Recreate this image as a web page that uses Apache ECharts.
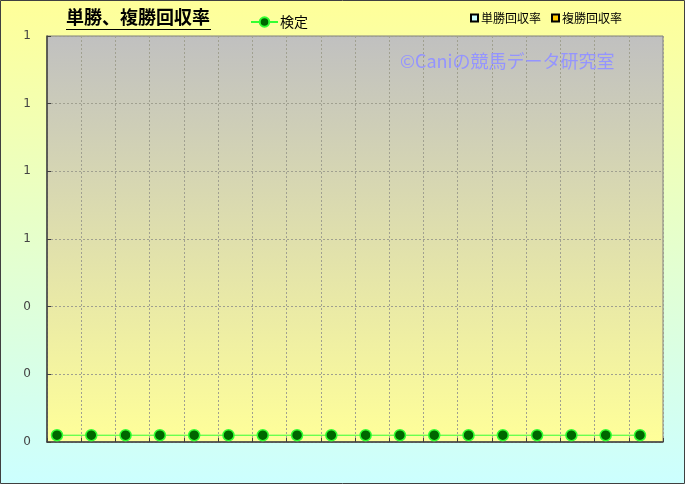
<!DOCTYPE html>
<html><head><meta charset="utf-8">
<script src="https://cdn.jsdelivr.net/npm/echarts@6/dist/echarts.min.js"></script>
<style>html,body{margin:0;padding:0;}#c{width:685px;height:484px;}</style>
</head><body><div id="c"></div>
<script>
const categories = ['1','2','3','4','5','6','7','8','9','10','11','12','13','14','15','16','17','18'];
const kenteiValues = [0.02,0.02,0.02,0.02,0.02,0.02,0.02,0.02,0.02,0.02,0.02,0.02,0.02,0.02,0.02,0.02,0.02,0.02];
const tanshoValues = [];
const fukushoValues = [];
const yMin = 0, yMax = 1.2, yInterval = 0.2;
const FONT = '"Noto Sans CJK JP", sans-serif';

const chart = echarts.init(document.getElementById('c'), null, {renderer:'canvas'});
chart.setOption({
  animation:false,
  backgroundColor:{type:'linear',x:0,y:0,x2:0,y2:1,colorStops:[{offset:0,color:'#FFFF99'},{offset:1,color:'#CCFFFF'}]},
  textStyle:{fontFamily:FONT},
  title:[
    {text:'単勝、複勝回収率',left:66,top:8,padding:0,textStyle:{fontSize:18,fontWeight:'bold',color:'#000',fontFamily:FONT}},
    {text:'©Caniの競馬データ研究室',left:400,top:52,padding:0,textStyle:{fontSize:18,fontWeight:'normal',color:'#9494FF',fontFamily:FONT}}
  ],
  legend:[
    {data:['検定'],left:250,top:15,padding:0,itemWidth:27,itemHeight:12,itemGap:4,textStyle:{fontSize:14,color:'#000',fontFamily:FONT,padding:[0,0,0,-3]}},
    {data:['単勝回収率','複勝回収率'],left:470,top:12,padding:0,itemWidth:7,itemHeight:7,itemGap:10,icon:'rect',textStyle:{fontSize:12,color:'#000',fontFamily:FONT,padding:[0,0,0,-2]}}
  ],
  grid:[
    {left:47,top:36,right:22,bottom:42,show:true,borderColor:'#808080',borderWidth:1,
      backgroundColor:{type:'linear',x:0,y:0,x2:0,y2:1,colorStops:[{offset:0,color:'#C0C0C0'},{offset:1,color:'#FFFF99'}]}},
    {left:57,top:36,right:45,bottom:42,show:false}
  ],
  xAxis:[
    {type:'category',gridIndex:0,data:categories,boundaryGap:true,
      axisLine:{show:true,lineStyle:{color:'#404040',width:1.5}},
      axisTick:{show:true,inside:true,length:4,lineStyle:{color:'#404040'}},
      axisLabel:{show:false},
      splitLine:{show:true,lineStyle:{color:'#a0a090',type:[2,2],width:1}}},
    {type:'category',gridIndex:1,data:categories,boundaryGap:false,show:false}
  ],
  yAxis:[
    {type:'value',gridIndex:0,min:yMin,max:yMax,interval:yInterval,
      axisLine:{show:true,lineStyle:{color:'#404040',width:1.5}},
      axisTick:{show:true,inside:true,length:4,lineStyle:{color:'#404040'}},
      axisLabel:{color:'#444',fontSize:12,margin:16,fontFamily:'"DejaVu Sans", sans-serif',formatter:v=>String(Math.round(v))},
      splitLine:{show:true,lineStyle:{color:'#a0a090',type:[2,2],width:1}}},
    {type:'value',gridIndex:1,min:yMin,max:yMax,interval:yInterval,show:false,splitLine:{show:false}}
  ],
  series:[
    {name:'検定',type:'line',xAxisIndex:1,yAxisIndex:1,data:kenteiValues,symbol:'circle',symbolSize:11,
      lineStyle:{color:'#33FF33',width:1},
      itemStyle:{color:'#006600',borderColor:'#33FF33',borderWidth:1.5}},
    {name:'単勝回収率',type:'bar',data:tanshoValues,itemStyle:{color:'#CCFFFF',borderColor:'#000',borderWidth:1.5}},
    {name:'複勝回収率',type:'bar',data:fukushoValues,itemStyle:{color:'#FFCC00',borderColor:'#000',borderWidth:1.5}}
  ],
  graphic:[
    {type:'line',shape:{x1:66,y1:29.5,x2:211,y2:29.5},style:{stroke:'#000',lineWidth:1}},
    {type:'rect',shape:{x:0.5,y:0.5,width:684,height:483},style:{fill:null,stroke:'#404040',lineWidth:1}}
  ]
});
</script></body></html>
